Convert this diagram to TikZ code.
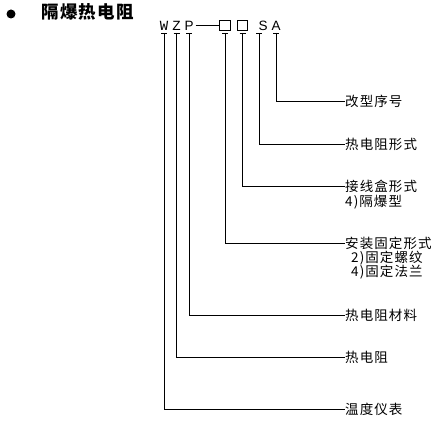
\documentclass[tikz,border=0pt]{standalone}
\usepackage{fontspec}
\setmainfont{Liberation Sans}
\setmonofont{Liberation Mono}
\newfontfamily\cjk[LetterSpace=8]{Noto Sans CJK SC}
\tikzset{
  wire/.style={line width=0.9pt},
  lbl/.style={anchor=west,inner sep=0pt,text height=10.5pt,text depth=0pt},
  code/.style={inner sep=0pt,font=\fontsize{13.5}{13.5}\selectfont},
  mono/.style={inner sep=0pt,font=\ttfamily\fontsize{14}{14}\selectfont},
  slot/.style={draw,line width=0.9pt,minimum size=10.5pt,inner sep=0pt}
}
\begin{document}
\begin{tikzpicture}[x=1pt,y=-1pt,font=\cjk\fontsize{13.5}{13.5}\selectfont]
  \useasboundingbox (0,0) rectangle (444,430);
  % title
  \fill (11,14) circle (4.5);
  \node[lbl,font=\cjk\bfseries\fontsize{17.5}{17.5}\selectfont] (title) at (41,13.5) {隔爆热电阻};
  % model code
  \node[mono] (cW) at (164,25.5) {W};
  \node[mono] (cZ) at (176.5,25.5) {Z};
  \node[code] (cP) at (189,25.5) {P};
  \node[slot] (b1) at (225,25.5) {};
  \node[slot] (b2) at (242.5,25.5) {};
  \node[code] (cS) at (263,25.5) {S};
  \node[code] (cA) at (276,25.5) {A};
  \draw[wire] ([xshift=2pt]cP.east) -- (b1.west);
  \foreach \n/\x in {W/164,Z/176.5,P/189,1/225,2/242.5,S/259,A/276}
    \coordinate (t\n) at (\x,33);
  % labels
  \node[lbl] (lA) at (345,101) {改型序号};
  \node[lbl] (lS) at (345,144) {热电阻形式};
  \node[lbl] (l2) at (345,186) {接线盒形式};
  \node[lbl] (l2a) at (345,201) {4)隔爆型};
  \node[lbl] (l1) at (345,243) {安装固定形式};
  \node[lbl] (l1a) at (351,257.5) {2)固定螺纹};
  \node[lbl] (l1b) at (351,271) {4)固定法兰};
  \node[lbl] (lP) at (345,315) {热电阻材料};
  \node[lbl] (lZ) at (345,357) {热电阻};
  \node[lbl] (lW) at (345,409) {温度仪表};
  % connectors
  \foreach \n in {A,S,2,1,P,Z,W} {
    \draw[wire] (t\n) |- (l\n.west);
    \draw[wire] ([xshift=-3pt]t\n) -- ([xshift=3pt]t\n);
  }
\end{tikzpicture}
\end{document}
